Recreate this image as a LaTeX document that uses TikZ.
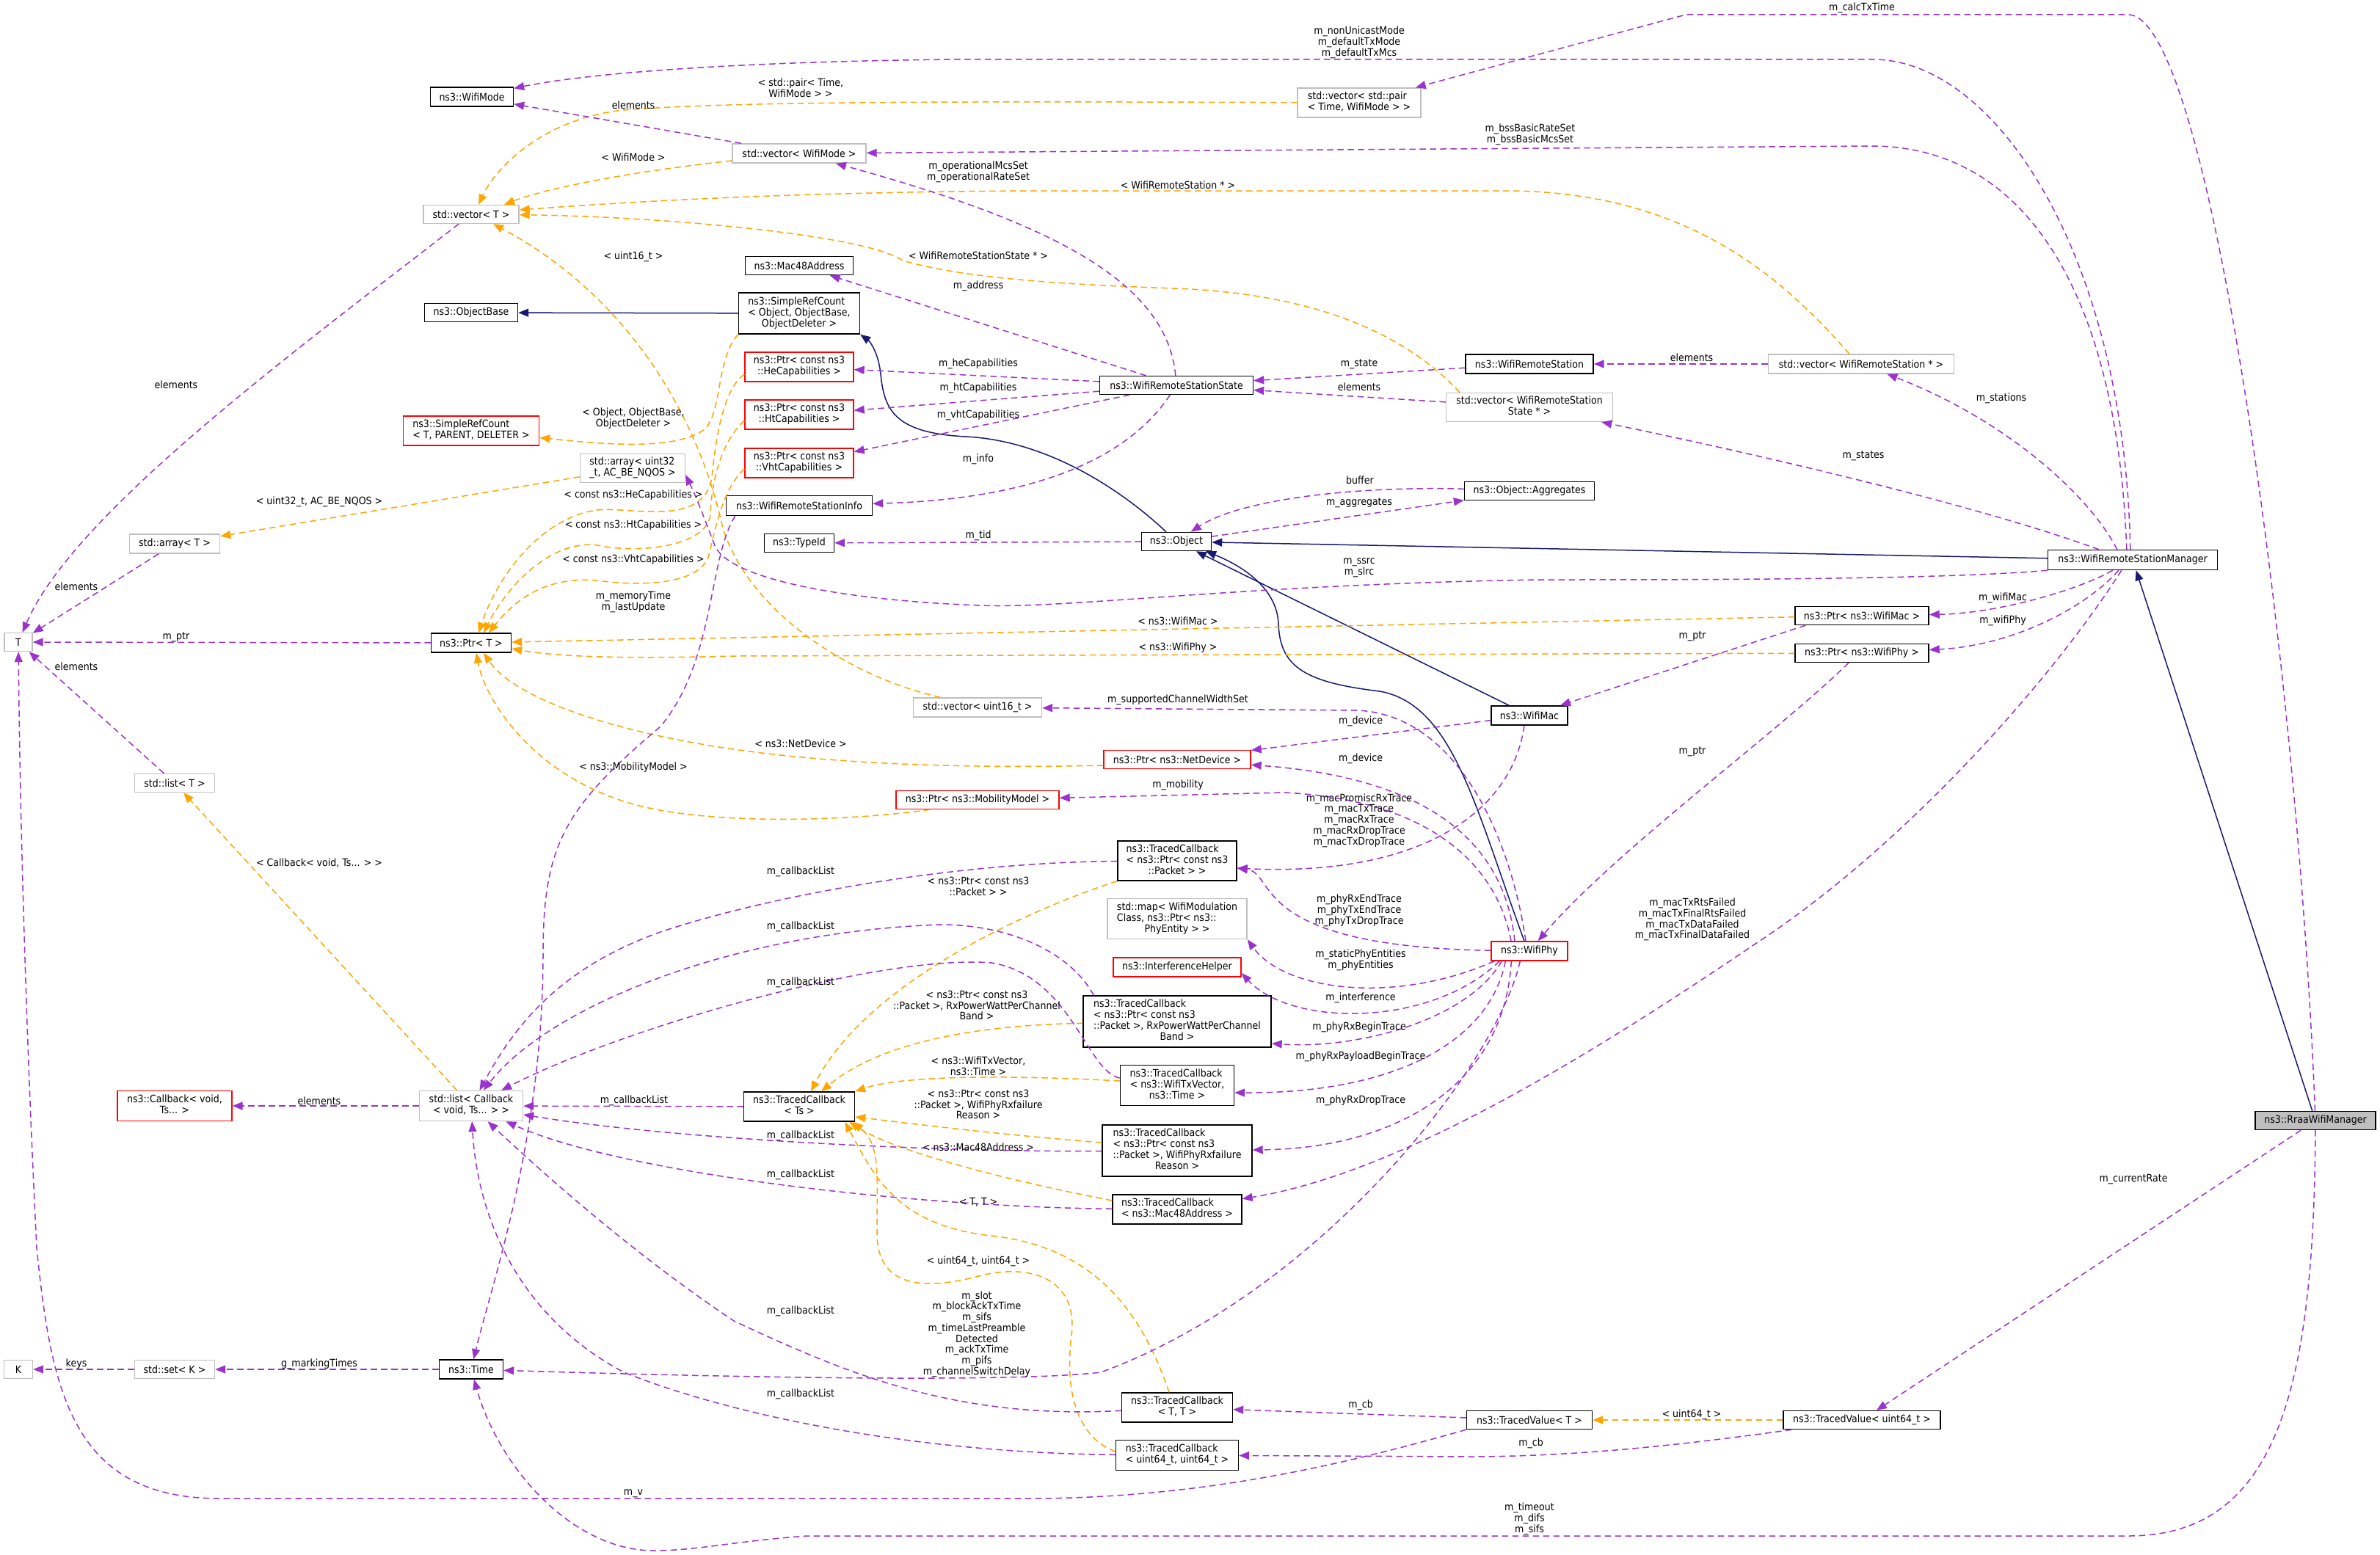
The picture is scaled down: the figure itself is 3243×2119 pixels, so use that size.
\documentclass[tikz,border=0pt]{standalone}
\usepackage{fontspec}
\setmainfont{DejaVu Sans}[FakeStretch=0.9]
\usetikzlibrary{arrows.meta}
\definecolor{pur}{HTML}{9A32CD}
\definecolor{org}{HTML}{FFA500}
\definecolor{nblue}{HTML}{191970}
\definecolor{gry}{HTML}{BFBFBF}
\newcommand\nfont{\fontsize{14}{14.7}\selectfont}
\newcommand\mlab[2]{\begin{tabular}{@{}l@{}}#1\\\multicolumn{1}{@{}c@{}}{#2}\end{tabular}}
\begin{document}
\begin{tikzpicture}[x=1pt,y=-1pt,
  box/.style={rectangle, inner sep=0pt, line width=1.4pt, font=\nfont},
  nb/.style={box, draw=black},
  ng/.style={box, draw=gry},
  nr/.style={box, draw=red},
  nf/.style={box, draw=black, fill=gry},
  lb/.style={font=\nfont, align=center, inner sep=0pt},
  pu/.style={draw=pur, line width=1.5pt, dash pattern=on 8.5pt off 5.5pt, -{Triangle[length=14pt,width=11pt]}},
  orl/.style={draw=org, line width=1.5pt, dash pattern=on 8.5pt off 5.5pt, -{Triangle[length=14pt,width=11pt]}},
  inh/.style={draw=nblue, line width=1.5pt, -{Triangle[length=14pt,width=11pt]}}
]
\useasboundingbox (0,0) rectangle (3243,2119);

% ---------------- nodes ----------------
\node[nb, minimum width=113pt, minimum height=26pt] (wifimode) at (643,132) {ns3::WifiMode};
\node[ng, minimum width=130pt, minimum height=25pt] (vecT) at (642,292) {std::vector< T >};
\node[nb, minimum width=127pt, minimum height=25pt] (objbase) at (642,426) {ns3::ObjectBase};
\node[nr, minimum width=185pt, minimum height=40pt] (srcT) at (642,587) {\mlab{ns3::SimpleRefCount}{< T, PARENT, DELETER >}};
\node[ng, minimum width=143pt, minimum height=39pt] (arr32) at (862,638) {\mlab{std::array< uint32}{\_t, AC\_BE\_NQOS >}};
\node[nb, minimum width=147pt, minimum height=25pt] (mac48) at (1089,362) {ns3::Mac48Address};
\node[nb, minimum width=165pt, minimum height=56pt] (srcObj) at (1089,427) {\mlab{ns3::SimpleRefCount\\< Object, ObjectBase,}{ObjectDeleter >}};
\node[nr, minimum width=148pt, minimum height=40pt] (heCap) at (1089,500) {\mlab{ns3::Ptr< const ns3}{::HeCapabilities >}};
\node[nr, minimum width=148pt, minimum height=40pt] (htCap) at (1089,565) {\mlab{ns3::Ptr< const ns3}{::HtCapabilities >}};
\node[nr, minimum width=148pt, minimum height=40pt] (vhtCap) at (1089,631) {\mlab{ns3::Ptr< const ns3}{::VhtCapabilities >}};
\node[nb, minimum width=199pt, minimum height=27pt] (wrsInfo) at (1089,689) {ns3::WifiRemoteStationInfo};
\node[ng, minimum width=182pt, minimum height=26pt] (vecMode) at (1089,209) {std::vector< WifiMode >};
\node[ng, minimum width=168pt, minimum height=40pt] (vecPair) at (1852,140) {\mlab{std::vector< std::pair}{< Time, WifiMode > >}};
\node[nb, minimum width=209pt, minimum height=25pt] (wrss) at (1603,525) {ns3::WifiRemoteStationState};
\node[nb, minimum width=174pt, minimum height=26pt] (wrs) at (2084,496) {ns3::WifiRemoteStation};
\node[ng, minimum width=227pt, minimum height=39pt] (vecWrss) at (2084,555) {\mlab{std::vector< WifiRemoteStation}{State * >}};
\node[ng, minimum width=253pt, minimum height=26pt] (vecWrs) at (2536,496) {std::vector< WifiRemoteStation * >};
\node[nb, minimum width=177pt, minimum height=25pt] (aggr) at (2084,669) {ns3::Object::Aggregates};
\node[ng, minimum width=123pt, minimum height=26pt] (arrT) at (238,741) {std::array< T >};
\node[ng, minimum width=38pt, minimum height=25pt] (T) at (25,875) {T};
\node[nb, minimum width=109pt, minimum height=26pt] (ptrT) at (642,876) {ns3::Ptr< T >};
\node[ng, minimum width=109pt, minimum height=25pt] (listT) at (238,1067) {std::list< T >};
\node[nb, minimum width=95pt, minimum height=25pt] (typeid) at (1089,740) {ns3::TypeId};
\node[nb, minimum width=95pt, minimum height=25pt] (object) at (1603,738) {ns3::Object};
\node[ng, minimum width=175pt, minimum height=26pt] (vec16) at (1332,964) {std::vector< uint16\_t >};
\node[nr, minimum width=200pt, minimum height=25pt] (ptrND) at (1604,1035) {ns3::Ptr< ns3::NetDevice >};
\node[nr, minimum width=222pt, minimum height=25pt] (ptrMM) at (1332,1090) {ns3::Ptr< ns3::MobilityModel >};
\node[nb, minimum width=162pt, minimum height=54pt] (tcPkt) at (1604,1173) {\mlab{ns3::TracedCallback\\< ns3::Ptr< const ns3}{::Packet > >}};
\node[ng, minimum width=190pt, minimum height=55pt] (map) at (1604,1252) {\mlab{std::map< WifiModulation\\Class, ns3::Ptr< ns3::}{PhyEntity > >}};
\node[nr, minimum width=174pt, minimum height=26pt] (ih) at (1604,1318) {ns3::InterferenceHelper};
\node[nb, minimum width=256pt, minimum height=70pt] (tcRxP) at (1604,1392) {\mlab{ns3::TracedCallback\\< ns3::Ptr< const ns3\\::Packet >, RxPowerWattPerChannel}{Band >}};
\node[nb, minimum width=104pt, minimum height=26pt] (wifimac) at (2084,975) {ns3::WifiMac};
\node[nr, minimum width=104pt, minimum height=26pt] (wifiphy) at (2084,1296) {ns3::WifiPhy};
\node[nb, minimum width=231pt, minimum height=27pt] (wrsm) at (2906,763) {ns3::WifiRemoteStationManager};
\node[nb, minimum width=182pt, minimum height=25pt] (ptrMac) at (2537,839) {ns3::Ptr< ns3::WifiMac >};
\node[nb, minimum width=182pt, minimum height=25pt] (ptrPhy) at (2537,890) {ns3::Ptr< ns3::WifiPhy >};
\node[nr, minimum width=156pt, minimum height=41pt] (cb) at (238,1507) {\mlab{ns3::Callback< void,}{Ts... >}};
\node[ng, minimum width=141pt, minimum height=41pt] (listCb) at (642,1507) {\mlab{std::list< Callback}{< void, Ts... > >}};
\node[ng, minimum width=39pt, minimum height=25pt] (K) at (25,1866) {K};
\node[ng, minimum width=109pt, minimum height=25pt] (setK) at (238,1866) {std::set< K >};
\node[nb, minimum width=87pt, minimum height=26pt] (time) at (642,1866) {ns3::Time};
\node[nb, minimum width=151pt, minimum height=40pt] (tcTs) at (1089,1508) {\mlab{ns3::TracedCallback}{< Ts >}};
\node[nb, minimum width=155pt, minimum height=55pt] (tcTx) at (1604,1479) {\mlab{ns3::TracedCallback\\< ns3::WifiTxVector,}{ns3::Time >}};
\node[nb, minimum width=204pt, minimum height=70pt] (tcFail) at (1604,1568) {\mlab{ns3::TracedCallback\\< ns3::Ptr< const ns3\\::Packet >, WifiPhyRxfailure}{Reason >}};
\node[nb, minimum width=176pt, minimum height=40pt] (tcMac) at (1604,1648) {\mlab{ns3::TracedCallback}{< ns3::Mac48Address >}};
\node[nb, minimum width=151pt, minimum height=40pt] (tcTT) at (1604,1918) {\mlab{ns3::TracedCallback}{< T, T >}};
\node[nb, minimum width=167pt, minimum height=41pt] (tcU64) at (1604,1983) {\mlab{ns3::TracedCallback}{< uint64\_t, uint64\_t >}};
\node[nb, minimum width=171pt, minimum height=25pt] (tvT) at (2084,1935) {ns3::TracedValue< T >};
\node[nb, minimum width=214pt, minimum height=25pt] (tvU64) at (2537,1935) {ns3::TracedValue< uint64\_t >};
\node[nf, minimum width=164pt, minimum height=25pt] (rraa) at (3155,1527) {ns3::RraaWifiManager};

% ---------------- inheritance ----------------
\draw[inh] (srcObj) -- (objbase);
\draw[inh] ([xshift=-14pt]object.north) .. controls (1520,660) and (1420,600) .. (1316,595) .. controls (1220,590) and (1205,560) .. (1200,510) .. controls (1197,480) and (1185,465) .. (srcObj.south east);
\draw[inh] (wrsm) -- (object);
\draw[inh] (wifimac) -- (object);
\draw[inh] ([xshift=-7pt]wifiphy.north) .. controls (2010,1100) and (1980,960) .. (1880,942) .. controls (1780,930) and (1744,910) .. (1742,850) .. controls (1740,800) and (1690,770) .. ([xshift=40pt]object.south);
\draw[inh] (rraa) -- (wrsm);

% ---------------- template (orange) ----------------
\draw[orl] (vecPair) .. controls (1300,138) and (1000,138) .. (850,150) .. controls (750,160) and (680,220) .. ([xshift=10pt]vecT.north);
\draw[orl] (vecMode) .. controls (850,235) and (740,258) .. ([xshift=45pt]vecT.north);
\draw[orl] ([xshift=-16pt]vecWrs.north) .. controls (2430,380) and (2300,260) .. (2050,260) -- (1400,260) .. controls (1100,262) and (900,272) .. ([yshift=6pt]vecT.east);
\draw[orl] ([xshift=-95pt]vecWrss.north) .. controls (1920,460) and (1800,400) .. (1600,393) .. controls (1400,386) and (1300,375) .. (1230,355) .. controls (1180,320) and (900,295) .. (vecT);
\draw[orl] ([xshift=-51pt]vec16.north) .. controls (1150,920) and (1020,830) .. (985,720) .. controls (950,560) and (850,400) .. ([xshift=30pt]vecT.south);
\draw[orl] (srcObj.south west) .. controls (975,490) and (985,560) .. (960,585) .. controls (920,615) and (820,605) .. (srcT);
\draw[orl] (arr32) -- (arrT);
\draw[orl] ([yshift=-10pt]heCap.west) .. controls (985,530) and (975,600) .. (970,650) .. controls (960,720) and (860,690) .. (814,695) .. controls (740,705) and (680,780) .. ([xshift=10pt]ptrT.north);
\draw[orl] ([yshift=-8pt]htCap.west) .. controls (985,600) and (970,650) .. (968,700) .. controls (965,745) and (870,755) .. (814,743) .. controls (750,735) and (690,800) .. ([xshift=17pt]ptrT.north);
\draw[orl] ([yshift=-8pt]vhtCap.west) .. controls (985,665) and (975,720) .. (965,760) .. controls (950,795) and (880,800) .. (814,791) .. controls (740,785) and (700,820) .. ([xshift=24pt]ptrT.north);
\draw[orl] (ptrMac) -- (ptrT);
\draw[orl] (ptrPhy) -- (1000,894) .. controls (850,898) and (760,895) .. ([yshift=-8pt]ptrT.east);
\draw[orl] ([yshift=-8pt]ptrND.west) .. controls (1300,1048) and (1100,1040) .. (950,1013) .. controls (820,990) and (700,950) .. ([xshift=17pt]ptrT.south);
\draw[orl] ([xshift=-65pt]ptrMM.south) .. controls (1150,1120) and (950,1125) .. (850,1092) .. controls (720,1050) and (660,950) .. ([xshift=7pt]ptrT.south);
\draw[orl] (listCb) -- (listT);
\draw[orl] (tcPkt.south west) .. controls (1400,1240) and (1180,1340) .. ([xshift=16pt]tcTs.north);
\draw[orl] (tcRxP) .. controls (1330,1397) and (1200,1420) .. ([xshift=30pt]tcTs.north);
\draw[orl] ([yshift=6pt]tcTx.west) .. controls (1380,1465) and (1230,1465) .. (tcTs.north east);
\draw[orl] ([yshift=11pt]tcFail.west) .. controls (1350,1545) and (1250,1532) .. ([yshift=-14pt]tcTs.east);
\draw[orl] ([yshift=12pt]tcMac.west) .. controls (1380,1610) and (1220,1570) .. ([xshift=-8pt]tcTs.south east);
\draw[orl] ([xshift=-11pt]tcTT.north) .. controls (1560,1800) and (1500,1700) .. (1351,1684) .. controls (1220,1670) and (1190,1600) .. ([xshift=-14pt]tcTs.south east);
\draw[orl] ([yshift=5pt]tcU64.west) .. controls (1470,1960) and (1450,1900) .. (1460,1820) .. controls (1470,1740) and (1400,1720) .. (1330,1740) .. controls (1250,1760) and (1195,1750) .. (1195,1680) .. controls (1195,1600) and (1200,1560) .. ([xshift=-3pt]tcTs.south east);
\draw[orl] (tvU64) -- (tvT);

% ---------------- members (purple) ----------------
\draw[pu] ([xshift=113pt]wrsm.north west) .. controls (2895,350) and (2720,81) .. (2552,81) -- (1300,81) .. controls (1000,84) and (800,100) .. (wifimode);
\draw[pu] (rraa) .. controls (3130,900) and (3010,20) .. (2900,20) -- (2297,20) -- (vecPair);
\draw[pu] ([xshift=108pt]wrsm.north west) .. controls (2885,400) and (2760,199) .. (2550,199) -- (vecMode);
\draw[pu] (vecMode) -- (wifimode);
\draw[pu] (wrss) .. controls (1590,380) and (1420,300) .. (vecMode);
\draw[pu] (wrss) -- (mac48);
\draw[pu] (wrss) -- (heCap);
\draw[pu] (wrss) -- (htCap);
\draw[pu] (wrss) -- (vhtCap);
\draw[pu] (wrss) .. controls (1540,620) and (1420,680) .. (wrsInfo);
\draw[pu] (wrs) -- (wrss);
\draw[pu] (vecWrss) -- (wrss);
\draw[pu] (vecWrs) -- (wrs);
\draw[pu] ([xshift=95pt]wrsm.north west) .. controls (2850,680) and (2740,575) .. (vecWrs);
\draw[pu] ([xshift=70pt]wrsm.north west) .. controls (2700,690) and (2400,620) .. (vecWrss);
\draw[pu] (object) -- (aggr);
\draw[pu] (aggr) .. controls (1850,662) and (1690,680) .. (object);
\draw[pu] (object) -- (typeid);
\draw[pu] (wrsm.south west) .. controls (2650,790) and (2300,790) .. (2100,790) .. controls (1700,796) and (1450,830) .. (1336,825) .. controls (1150,818) and (1000,790) .. (975,746) .. controls (965,720) and (950,680) .. ([yshift=-9pt]arr32.east);
\draw[pu] ([xshift=89pt]wrsm.south west) .. controls (2830,805) and (2720,836) .. (ptrMac);
\draw[pu] ([xshift=97pt]wrsm.south west) .. controls (2840,830) and (2740,880) .. (ptrPhy);
\draw[pu] ([xshift=15pt]ptrMac.south west) -- (wifimac);
\draw[pu] ([xshift=-18pt]ptrPhy.south) .. controls (2420,1000) and (2200,1160) .. (wifiphy);
\draw[pu] ([xshift=101pt]wrsm.south west) .. controls (2800,920) and (2600,1150) .. (2392,1286) .. controls (2150,1450) and (1900,1600) .. (tcMac);
\draw[pu] (ptrT) -- (T);
\draw[pu] (vecT) .. controls (400,480) and (100,700) .. (T);
\draw[pu] (arrT) -- (T);
\draw[pu] (listT) -- (T);
\draw[pu] (tvT.south west) .. controls (1850,1990) and (1650,2042) .. (1400,2042) -- (300,2042) .. controls (100,2042) and (70,1900) .. (50,1700) .. controls (35,1400) and (27,1100) .. (T);
\draw[pu] (rraa) .. controls (3153,1900) and (3100,2093) .. (2900,2093) -- (1100,2093) .. controls (1000,2100) and (950,2113) .. (891,2113) .. controls (780,2113) and (680,2000) .. (time);
\draw[pu] (rraa) -- (tvU64);
\draw[pu] (tvT) -- (tcTT);
\draw[pu] ([xshift=12pt]tvU64.south west) .. controls (2300,1968) and (2150,1985) .. (2000,1985) -- (tcU64);
\draw[pu] (tcTs) -- (listCb);
\draw[pu] (tcPkt) .. controls (1300,1175) and (1050,1220) .. (900,1270) .. controls (760,1320) and (700,1400) .. (listCb);
\draw[pu] ([xshift=15pt]tcRxP.north west) .. controls (1460,1300) and (1380,1260) .. (1281,1260) .. controls (1000,1270) and (750,1370) .. (listCb);
\draw[pu] ([yshift=10pt]tcTx.west) .. controls (1480,1460) and (1460,1330) .. (1351,1312) .. controls (1200,1300) and (850,1400) .. (listCb);
\draw[pu] (tcFail) .. controls (1250,1570) and (900,1550) .. (listCb);
\draw[pu] (tcMac) .. controls (1250,1645) and (850,1600) .. (listCb);
\draw[pu] (tcTT) .. controls (1300,1935) and (1150,1870) .. (1000,1800) .. controls (850,1700) and (720,1580) .. (listCb);
\draw[pu] (tcU64) .. controls (1250,1980) and (1000,1930) .. (850,1870) .. controls (700,1790) and (650,1650) .. (listCb);
\draw[pu] (listCb) -- (cb);
\draw[pu] (setK) -- (K);
\draw[pu] (time) -- (setK);
\draw[pu] ([xshift=13pt]wrsInfo.south west) .. controls (965,760) and (975,900) .. (900,990) .. controls (770,1100) and (740,1150) .. (740,1300) .. controls (740,1550) and (670,1750) .. (time);
\draw[pu] ([xshift=-7pt]wifimac.south) .. controls (2060,1110) and (1930,1195) .. ([yshift=-10pt]tcPkt.east);
\draw[pu] (wifimac) -- (ptrND);
\draw[pu] ([xshift=-20pt]wifiphy.north) .. controls (2050,1150) and (1950,1060) .. (ptrND);
\draw[pu] ([xshift=-5pt]wifiphy.north) .. controls (2060,1150) and (1990,975) .. (1850,968) -- (vec16);
\draw[pu] ([xshift=-25pt]wifiphy.north) .. controls (2040,1180) and (1950,1090) .. (1750,1080) -- (ptrMM);
\draw[pu] (wifiphy) .. controls (1700,1290) and (1740,1190) .. ([yshift=-10pt]tcPkt.east);
\draw[pu] ([xshift=5pt]wifiphy.south west) .. controls (1900,1370) and (1750,1350) .. (map.south east);
\draw[pu] ([xshift=12pt]wifiphy.south west) .. controls (1950,1400) and (1760,1400) .. ([yshift=-8pt]ih.east);
\draw[pu] ([xshift=15pt]wifiphy.south west) .. controls (2000,1390) and (1850,1430) .. ([yshift=-30pt]tcRxP.east);
\draw[pu] ([xshift=20pt]wifiphy.south west) .. controls (2030,1420) and (1900,1490) .. ([yshift=-10pt]tcTx.east);
\draw[pu] ([xshift=28pt]wifiphy.south west) .. controls (2050,1480) and (1900,1565) .. (tcFail);
\draw[pu] ([xshift=40pt]wifiphy.south west) .. controls (2040,1450) and (1800,1760) .. (1500,1870) .. controls (1400,1882) and (1100,1880) .. (time);

% ---------------- labels ----------------
\node[lb] (l1) at (1852,58) {m\_nonUnicastMode\\m\_defaultTxMode\\m\_defaultTxMcs};
\node[lb] (l2) at (2537,11) {m\_calcTxTime};
\node[lb] (l3) at (2085,183) {m\_bssBasicRateSet\\m\_bssBasicMcsSet};
\node[lb] (l4) at (863,143) {elements};
\node[lb] (l5) at (1333,234) {m\_operationalMcsSet\\m\_operationalRateSet};
\node[lb] (l6) at (1333,390) {m\_address};
\node[lb] (l7) at (1333,496) {m\_heCapabilities};
\node[lb] (l8) at (1333,529) {m\_htCapabilities};
\node[lb] (l9) at (1333,566) {m\_vhtCapabilities};
\node[lb] (l10) at (1333,626) {m\_info};
\node[lb] (l11) at (1852,496) {m\_state};
\node[lb] (l12) at (1852,527) {elements};
\node[lb] (l13) at (2305,487) {elements};
\node[lb] (l14) at (2727,543) {m\_stations};
\node[lb] (l15) at (2539,621) {m\_states};
\node[lb] (l16) at (1852,685) {m\_aggregates};
\node[lb] (l17) at (1853,654) {buffer};
\node[lb] (l18) at (1333,730) {m\_tid};
\node[lb] (l19) at (1852,774) {m\_ssrc\\m\_slrc};
\node[lb] (l20) at (2729,815) {m\_wifiMac};
\node[lb] (l21) at (2729,846) {m\_wifiPhy};
\node[lb] (l22) at (2306,867) {m\_ptr};
\node[lb] (l23) at (2306,1024) {m\_ptr};
\node[lb] (l24) at (2306,1253) {m\_macTxRtsFailed\\m\_macTxFinalRtsFailed\\m\_macTxDataFailed\\m\_macTxFinalDataFailed};
\node[lb] (l25) at (240,868) {m\_ptr};
\node[lb] (l26) at (240,524) {elements};
\node[lb] (l27) at (104,799) {elements};
\node[lb] (l28) at (104,908) {elements};
\node[lb] (l29) at (863,2035) {m\_v};
\node[lb] (l30) at (2084,2070) {m\_timeout\\m\_difs\\m\_sifs};
\node[lb] (l31) at (2907,1607) {m\_currentRate};
\node[lb] (l32) at (1854,1915) {m\_cb};
\node[lb] (l33) at (2086,1967) {m\_cb};
\node[lb] (l34) at (864,1500) {m\_callbackList};
\node[lb] (l35) at (1091,1188) {m\_callbackList};
\node[lb] (l36) at (1091,1263) {m\_callbackList};
\node[lb] (l37) at (1091,1339) {m\_callbackList};
\node[lb] (l38) at (1091,1548) {m\_callbackList};
\node[lb] (l39) at (1091,1601) {m\_callbackList};
\node[lb] (l40) at (1091,1787) {m\_callbackList};
\node[lb] (l41) at (1091,1900) {m\_callbackList};
\node[lb] (l42) at (435,1500) {elements};
\node[lb] (l43) at (104,1859) {keys};
\node[lb] (l44) at (435,1859) {g\_markingTimes};
\node[lb] (l45) at (863,820) {m\_memoryTime\\m\_lastUpdate};
\node[lb] (l46) at (1852,1118) {m\_macPromiscRxTrace\\m\_macTxTrace\\m\_macRxTrace\\m\_macRxDropTrace\\m\_macTxDropTrace};
\node[lb] (l47) at (1854,983) {m\_device};
\node[lb] (l48) at (1854,1034) {m\_device};
\node[lb] (l49) at (1605,954) {m\_supportedChannelWidthSet};
\node[lb] (l50) at (1605,1070) {m\_mobility};
\node[lb] (l51) at (1852,1241) {m\_phyRxEndTrace\\m\_phyTxEndTrace\\m\_phyTxDropTrace};
\node[lb] (l52) at (1854,1308) {m\_staticPhyEntities\\m\_phyEntities};
\node[lb] (l53) at (1854,1360) {m\_interference};
\node[lb] (l54) at (1852,1400) {m\_phyRxBeginTrace};
\node[lb] (l55) at (1854,1440) {m\_phyRxPayloadBeginTrace};
\node[lb] (l56) at (1854,1500) {m\_phyRxDropTrace};
\node[lb] (l57) at (1331,1818) {m\_slot\\m\_blockAckTxTime\\m\_sifs\\m\_timeLastPreamble\\Detected\\m\_ackTxTime\\m\_pifs\\m\_channelSwitchDelay};
% template labels
\node[lb] (t1) at (1091,120) {< std::pair< Time,\\WifiMode > >};
\node[lb] (t2) at (863,214) {< WifiMode >};
\node[lb] (t3) at (1605,252) {< WifiRemoteStation * >};
\node[lb] (t4) at (1333,348) {< WifiRemoteStationState * >};
\node[lb] (t5) at (863,350) {< uint16\_t >};
\node[lb] (t6) at (863,570) {< Object, ObjectBase,\\ObjectDeleter >};
\node[lb] (t7) at (435,684) {< uint32\_t, AC\_BE\_NQOS >};
\node[lb] (t8) at (863,675) {< const ns3::HeCapabilities >};
\node[lb] (t9) at (863,716) {< const ns3::HtCapabilities >};
\node[lb] (t10) at (863,763) {< const ns3::VhtCapabilities >};
\node[lb] (t11) at (1605,846) {< ns3::WifiMac >};
\node[lb] (t12) at (1605,883) {< ns3::WifiPhy >};
\node[lb] (t13) at (1091,1013) {< ns3::NetDevice >};
\node[lb] (t14) at (863,1046) {< ns3::MobilityModel >};
\node[lb] (t15) at (435,1176) {< Callback< void, Ts... > >};
\node[lb] (t16) at (1333,1208) {< ns3::Ptr< const ns3\\::Packet > >};
\node[lb] (t17) at (1331,1370) {< ns3::Ptr< const ns3\\::Packet >, RxPowerWattPerChannel\\Band >};
\node[lb] (t18) at (1333,1453) {< ns3::WifiTxVector,\\ns3::Time >};
\node[lb] (t19) at (1333,1505) {< ns3::Ptr< const ns3\\::Packet >, WifiPhyRxfailure\\Reason >};
\node[lb] (t20) at (1333,1563) {< ns3::Mac48Address >};
\node[lb] (t21) at (1333,1638) {< T, T >};
\node[lb] (t22) at (1333,1719) {< uint64\_t, uint64\_t >};
\node[lb] (t23) at (2305,1928) {< uint64\_t >};
\end{tikzpicture}
\end{document}
